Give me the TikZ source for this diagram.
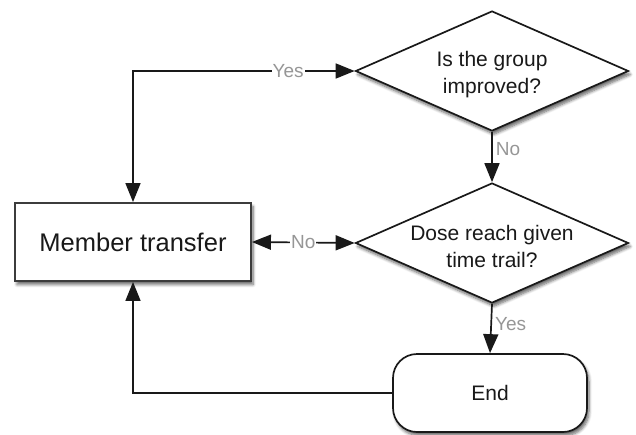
\documentclass[tikz,border=0pt]{standalone}
\usepackage{fontspec}
\setmainfont{Liberation Sans}
\usetikzlibrary{shapes.geometric,arrows.meta,shadows.blur}
\definecolor{lblgray}{RGB}{150,150,150}
\definecolor{ink}{RGB}{25,25,25}
\tikzset{
  x=1pt,y=-1pt,
  shade/.style={blur shadow={shadow xshift=2pt,shadow yshift=-3.5pt,shadow blur steps=6,shadow blur radius=3pt,shadow opacity=60}},
  decision/.style={shape=diamond,draw=ink,line width=1.7pt,fill=white,inner sep=0pt,
    minimum width=273pt,minimum height=120pt,shade},
  procbox/.style={shape=rectangle,draw=ink!85,line width=1.9pt,fill=white,
    minimum width=236pt,minimum height=78pt,font=\fontsize{25.5}{30}\selectfont,text=ink,shade},
  terminal/.style={shape=rectangle,rounded corners=24pt,draw=ink,line width=1.7pt,fill=white,
    minimum width=194pt,minimum height=78pt,font=\fontsize{21}{26}\selectfont,text=ink,shade},
  dtext/.style={align=center,font=\fontsize{21}{27}\selectfont,text=ink},
  tip/.style={Triangle[length=19pt,width=15pt]},
  conn/.style={draw=ink,line width=1.7pt,-{Triangle[length=19pt,width=15pt]}},
  biconn/.style={draw=ink,line width=1.7pt,{Triangle[length=19pt,width=15pt]}-{Triangle[length=19pt,width=15pt]}},
  lbl/.style={text=lblgray,font=\fontsize{19}{22}\selectfont,fill=white,inner sep=1pt},
  sidelbl/.style={text=lblgray,font=\fontsize{19}{22}\selectfont,inner sep=3pt}
}
\begin{document}
\begin{tikzpicture}
\useasboundingbox (0,0) rectangle (636,434);
\node[decision] (d1) at (492,71) {};
\node[dtext] (t1) at (492,75) {Is the group\\improved?};
\node[decision] (d2) at (492,243) {};
\node[dtext] (t2) at (492,246) {Dose reach given\\time trail?};
\node[procbox] (mt) at (133,242) {Member transfer};
\node[terminal] (end) at (490,393) {End};
\coordinate (corner1) at (133,71);
\coordinate (corner2) at (133,393);
% Yes loop from decision 1
\draw[biconn] (mt.north) -- (corner1) -- node[lbl,pos=0.7] (yes1) {Yes} (d1.west);
% No from decision 1 down
\draw[conn] (d1.south) -- node[sidelbl,right,pos=0.35] (no1) {No} (d2.north);
% No between box and decision 2
\draw[biconn] (mt.east) -- node[lbl] (no2) {No} (d2.west);
% Yes to End
\draw[conn] (d2.south) -- node[sidelbl,right,pos=0.4] (yes2) {Yes} (end.north);
% End back to member transfer
\draw[conn] (end.west) -- (corner2) -- (mt.south);
\end{tikzpicture}
\end{document}
